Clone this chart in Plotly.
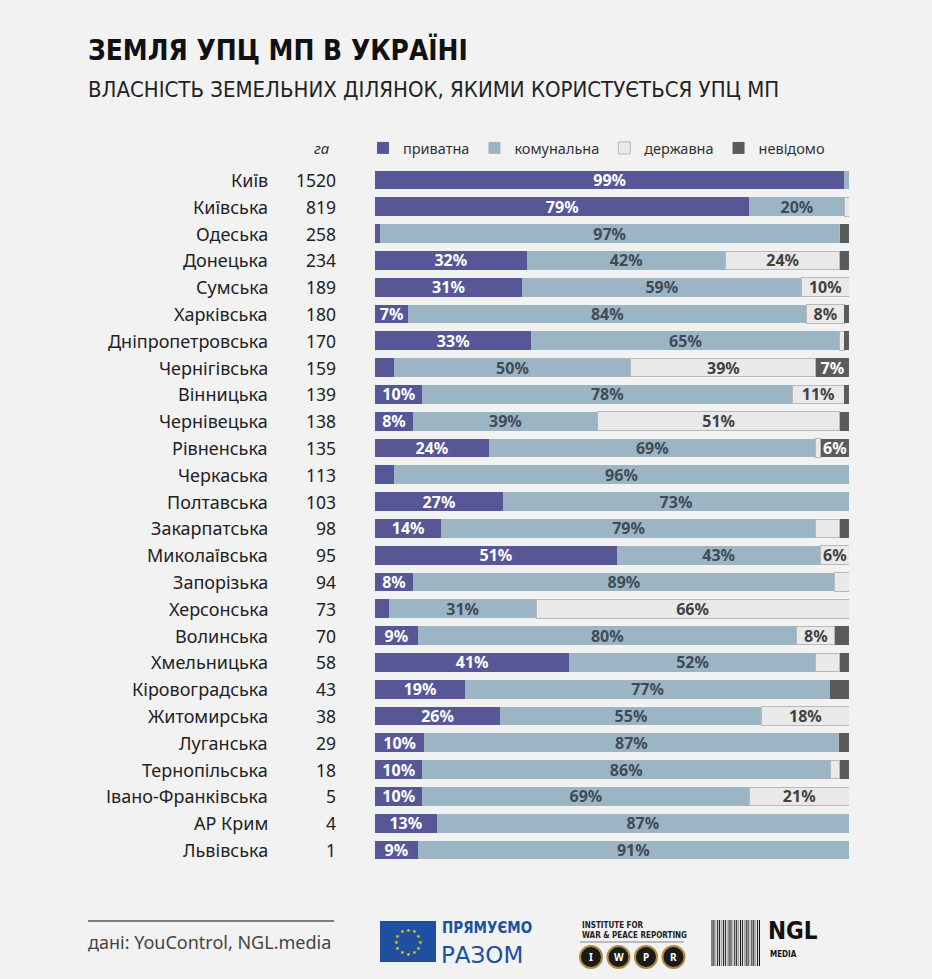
import math
import plotly.graph_objects as go

# ---------------- data ----------------
regions = ["Київ", "Київська", "Одеська", "Донецька", "Сумська", "Харківська",
           "Дніпропетровська", "Чернігівська", "Вінницька", "Чернівецька",
           "Рівненська", "Черкаська", "Полтавська", "Закарпатська",
           "Миколаївська", "Запорізька", "Херсонська", "Волинська",
           "Хмельницька", "Кіровоградська", "Житомирська", "Луганська",
           "Тернопільська", "Івано-Франківська", "АР Крим", "Львівська"]
hectares = [1520, 819, 258, 234, 189, 180, 170, 159, 139, 138, 135, 113, 103,
            98, 95, 94, 73, 70, 58, 43, 38, 29, 18, 5, 4, 1]
private = [99, 79, 1, 32, 31, 7, 33, 4, 10, 8, 24, 4, 27, 14, 51, 8, 3, 9, 41,
           19, 26.4, 10.4, 10, 10, 13, 9]
communal = [1, 20, 97, 42, 59, 84, 65, 50, 78, 39, 69, 96, 73, 79, 43, 89, 31,
            80, 52, 77, 55.2, 87.4, 86, 69, 87, 91]
state = [0, 1, 0, 24, 10, 8, 1, 39, 11, 51, 1, 0, 0, 5, 6, 3, 66, 8, 5, 0,
         18.4, 0, 2, 21, 0, 0]
unknown = [0, 0, 2, 2, 0, 1, 1, 7, 1, 2, 6, 0, 0, 2, 0, 0, 0, 3, 2, 4, 0, 2.2,
           2, 0, 0, 0]
series_names = ["приватна", "комунальна", "державна", "невідомо"]

# ---------------- styling ----------------
W, H = 932, 979
BG = "#f2f2f2"
colors = ["#575798", "#9bb5c5", "#e9e9e9", "#5b5b5b"]
text_colors = ["#ffffff", "#414b55", "#414141", "#ffffff"]
line_colors = ["#575798", "#9bb5c5", "#b8b8b8", "#5b5b5b"]
line_widths = [0, 0, 1, 0]
BODY = "Noto Sans, Open Sans, sans-serif"
COND = "Liberation Sans Narrow, DejaVu Sans Condensed, Arial Narrow, sans-serif"


def px(x):
    return x / W


def py(y):
    return 1 - y / H


def labels(vals):
    return [f"{v:.0f}%" if v >= 5.5 else "" for v in vals]


fig = go.Figure()
for name, vals, c, tc, lc, lw in zip(series_names,
                                    [private, communal, state, unknown],
                                    colors, text_colors, line_colors, line_widths):
    fig.add_trace(go.Bar(
        y=regions, x=vals, name=name, orientation="h",
        marker=dict(color=c, line=dict(color=lc, width=lw)),
        text=labels(vals), textposition="inside", insidetextanchor="middle",
        textfont=dict(family=BODY, size=16, color=tc, weight="bold"),
        hoverinfo="skip",
    ))

annotations = []
# region names and hectares
for r, h in zip(regions, hectares):
    annotations.append(dict(x=px(270), y=r, xref="paper", yref="y", text=r,
                            xanchor="right", yanchor="middle", showarrow=False,
                            font=dict(family=BODY, size=18, color="#222222")))
    annotations.append(dict(x=px(338), y=r, xref="paper", yref="y", text=str(h),
                            xanchor="right", yanchor="middle", showarrow=False,
                            font=dict(family=BODY, size=17.5, color="#222222")))

# title / subtitle
annotations.append(dict(x=px(86), y=py(50), xref="paper", yref="paper",
                        text="<b>ЗЕМЛЯ УПЦ МП В УКРАЇНІ</b>", xanchor="left",
                        yanchor="middle", showarrow=False,
                        font=dict(family=COND, size=27.8, color="#111111")))
annotations.append(dict(x=px(86), y=py(89), xref="paper", yref="paper",
                        text="ВЛАСНІСТЬ ЗЕМЕЛЬНИХ ДІЛЯНОК, ЯКИМИ КОРИСТУЄТЬСЯ УПЦ МП",
                        xanchor="left", yanchor="middle", showarrow=False,
                        font=dict(family=COND, size=22, color="#222222")))
annotations.append(dict(x=px(322), y=py(148), xref="paper", yref="paper",
                        text="<i>га</i>", xanchor="center", yanchor="middle",
                        showarrow=False,
                        font=dict(family=BODY, size=15, color="#333333")))
# footer
annotations.append(dict(x=px(86), y=py(942), xref="paper", yref="paper",
                        text="дані: YouControl, NGL.media", xanchor="left",
                        yanchor="middle", showarrow=False,
                        font=dict(family=BODY, size=18, color="#444444")))

shapes = [dict(type="line", xref="paper", yref="paper", x0=px(88), x1=px(334),
               y0=py(921), y1=py(921), line=dict(color="#555555", width=1.5))]

# --- logo: EU "Прямуємо разом"
shapes.append(dict(type="rect", xref="paper", yref="paper", x0=px(380), x1=px(436),
                   y0=py(962), y1=py(921), fillcolor="#1f4fa0", line=dict(width=0)))
for k in range(12):
    a = 2 * math.pi * k / 12
    annotations.append(dict(x=px(408 + 12 * math.cos(a)), y=py(941.5 + 12 * math.sin(a)),
                            xref="paper", yref="paper", text="★", showarrow=False,
                            xanchor="center", yanchor="middle",
                            font=dict(size=5, color="#f5d400")))
annotations.append(dict(x=px(440), y=py(928), xref="paper", yref="paper",
                        text="<b>ПРЯМУЄМО</b>", xanchor="left", yanchor="middle",
                        showarrow=False,
                        font=dict(family=COND, size=15, color="#1f4fa0")))
annotations.append(dict(x=px(439), y=py(955), xref="paper", yref="paper",
                        text="РАЗОМ", xanchor="left", yanchor="middle",
                        showarrow=False,
                        font=dict(family="DejaVu Sans, sans-serif", size=23,
                                  color="#1f4fa0")))
# --- logo: IWPR
annotations.append(dict(x=px(580), y=py(930), xref="paper", yref="paper",
                        text="<b>INSTITUTE FOR<br>WAR &amp; PEACE REPORTING</b>",
                        xanchor="left", yanchor="middle", align="left",
                        showarrow=False, font=dict(family=COND, size=8, color="#222")))
shapes.append(dict(type="line", xref="paper", yref="paper", x0=px(580), x1=px(684),
                   y0=py(942), y1=py(942), line=dict(color="#888", width=1)))
for k, letter in enumerate("IWPR"):
    cx = 591 + 27.5 * k
    shapes.append(dict(type="circle", xref="paper", yref="paper",
                       x0=px(cx - 11), x1=px(cx + 11), y0=py(968), y1=py(946),
                       fillcolor="#1a1a1a", line=dict(color="#b08a3a", width=2)))
    annotations.append(dict(x=px(cx), y=py(957), xref="paper", yref="paper",
                            text=f"<b>{letter}</b>", xanchor="center", yanchor="middle",
                            showarrow=False, font=dict(family=BODY, size=10, color="#ffffff")))
# --- logo: NGL media
for k in range(26):
    xx = 712 + k * 1.9
    shapes.append(dict(type="line", xref="paper", yref="paper", x0=px(xx), x1=px(xx),
                       y0=py(966), y1=py(920),
                       line=dict(color="#111111" if k % 3 != 2 else "#999999", width=1)))
annotations.append(dict(x=px(766), y=py(931), xref="paper", yref="paper",
                        text="<b>NGL</b>", xanchor="left", yanchor="middle",
                        showarrow=False, font=dict(family=COND, size=24, color="#111")))
annotations.append(dict(x=px(768), y=py(954), xref="paper", yref="paper",
                        text="<b>MEDIA</b>", xanchor="left", yanchor="middle",
                        showarrow=False, font=dict(family=COND, size=8, color="#111")))

n = len(regions)
fig.update_layout(
    width=W, height=H, barmode="stack", bargap=0.3,
    paper_bgcolor=BG, plot_bgcolor=BG,
    margin=dict(l=0, r=0, t=0, b=0),
    showlegend=True,
    legend=dict(orientation="h", x=px(363), y=py(148), xanchor="left",
                yanchor="middle", bgcolor="rgba(0,0,0,0)", itemwidth=30,
                traceorder="normal",
                font=dict(family=BODY, size=14.5, color="#333333")),
    uniformtext=dict(minsize=16, mode="show"),
    xaxis=dict(domain=[px(375), px(849)], range=[0, 100], visible=False,
               fixedrange=True),
    yaxis=dict(domain=[py(863.4), py(166.6)], categoryorder="array",
               categoryarray=regions, range=[n - 0.5, -0.5], visible=False,
               fixedrange=True),
    annotations=annotations, shapes=shapes,
)

fig.write_html("out.html")
